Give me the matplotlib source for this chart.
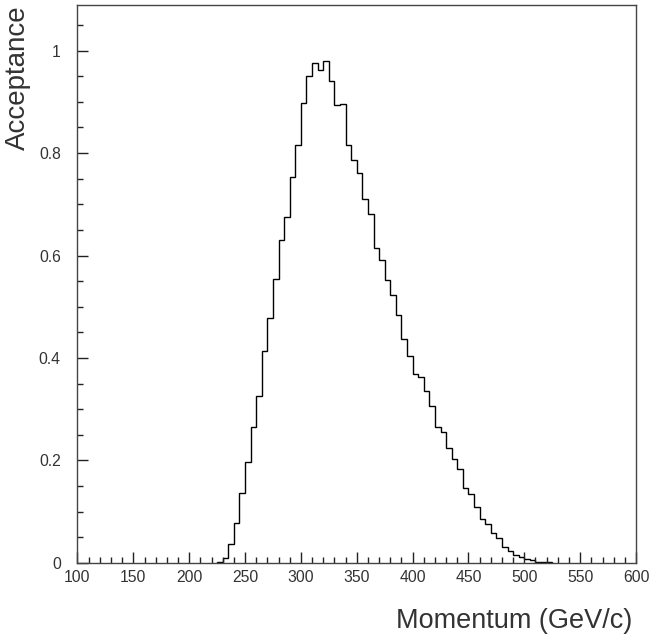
import matplotlib
matplotlib.use("Agg")
import matplotlib.pyplot as plt
import numpy as np
from matplotlib.ticker import MultipleLocator, FuncFormatter

# Histogram: acceptance per 5 GeV/c momentum bin
bin_lo = 225
bin_width = 5
acceptance = [
    0.002, 0.010, 0.038, 0.078, 0.136, 0.197, 0.265, 0.326, 0.413, 0.478,
    0.554, 0.631, 0.675, 0.754, 0.816, 0.898, 0.951, 0.975, 0.962, 0.980,
    0.941, 0.893, 0.896, 0.816, 0.787, 0.761, 0.710, 0.681, 0.615, 0.591,
    0.553, 0.523, 0.484, 0.437, 0.404, 0.369, 0.362, 0.335, 0.306, 0.265,
    0.255, 0.225, 0.203, 0.183, 0.147, 0.134, 0.109, 0.085, 0.076, 0.058,
    0.048, 0.032, 0.024, 0.016, 0.012, 0.008, 0.005, 0.002, 0.001, 0.001,
]
edges = bin_lo + bin_width * np.arange(len(acceptance) + 1)

x_ticks = [100, 150, 200, 250, 300, 350, 400, 450, 500, 550, 600]
y_ticks = [0, 0.2, 0.4, 0.6, 0.8, 1.0]

plt.rcParams['font.family'] = ['Liberation Sans', 'DejaVu Sans']
ink = '#333333'

fig = plt.figure(figsize=(6.49, 6.37), dpi=100)
ax = fig.add_axes([0.1194, 0.1162, 0.9800 - 0.1194, 0.9914 - 0.1162])

ax.stairs(acceptance, edges, color='black', linewidth=1.0, baseline=0)

ax.set_xlim(100, 600)
ax.set_ylim(0, 1.088)
ax.set_xticks(x_ticks)
ax.set_yticks(y_ticks)
ax.xaxis.set_minor_locator(MultipleLocator(10))
ax.yaxis.set_minor_locator(MultipleLocator(0.05))
ax.yaxis.set_major_formatter(FuncFormatter(lambda v, p: '%g' % v))

ax.tick_params(which='both', direction='in', top=False, right=False,
               color='#222222', labelcolor=ink, labelsize=11.3)
ax.tick_params(which='major', length=7.7, width=1.0)
ax.tick_params(which='minor', length=4.0, width=1.0)
ax.tick_params(axis='x', which='major', pad=5)
ax.tick_params(axis='y', which='major', pad=12)

for sp in ax.spines.values():
    sp.set_color('#444444')
    sp.set_linewidth(1.0)

fig.text(0.974, 0.014, 'Momentum (GeV/c)', ha='right', va='baseline',
         fontsize=19.5, color=ink)
fig.text(0.028, 0.992, 'Acceptance', ha='center', va='top', rotation=90,
         fontsize=20, color=ink)

fig.savefig('out.png', dpi=100)
